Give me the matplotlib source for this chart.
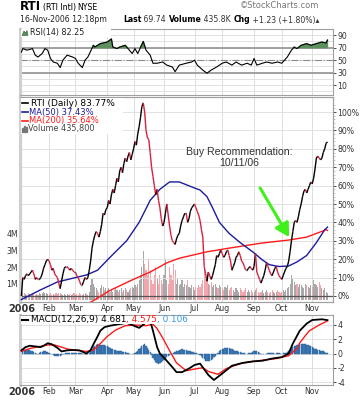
import numpy as np
import matplotlib.pyplot as plt
from matplotlib.collections import LineCollection
from matplotlib.patches import Rectangle, Polygon
from matplotlib.lines import Line2D

plt.rcParams['font.family'] = 'DejaVu Sans'
plt.rcParams['axes.unicode_minus'] = False

# ---- data ----
month_labels = ['2006', 'Feb', 'Mar', 'Apr', 'May', 'Jun', 'Jul', 'Aug', 'Sep', 'Oct', 'Nov']
month_days = [20, 19, 23, 19, 22, 22, 20, 23, 20, 22, 12]   # trading days per month

# RTI daily close, % change since 3-Jan-2006
price_pct = (
    [0, 10, 9, 11, 12, 11, 12, 13, 14, 12, 9, 10, 9, 9, 10, 12, 15, 17, 19, 20]
    + [19, 17, 14, 15, 12, 11, 10, 7, 4, 8, 12, 15, 16, 16, 15, 14, 15, 14, 13]
    + [13, 11, 10, 8, 6, 6, 8, 10, 9, 10, 14, 19, 26, 30, 33, 35, 34, 32, 35, 39, 45, 44, 47]
    + [48, 52, 50, 55, 58, 56, 60, 64, 62, 68, 70, 67, 72, 75, 73, 76, 78, 74, 77]
    + [80, 84, 82, 88, 92, 97, 103, 105, 100, 90, 86, 85, 78, 70, 65, 60, 55, 58, 52, 48, 42, 38]
    + [40, 45, 50, 44, 38, 33, 30, 29, 28, 31, 33, 34, 38, 41, 43, 45, 45, 40, 42, 46, 48, 49]
    + [50, 48, 46, 44, 41, 36, 32, 16, 12, 8, 13, 11, 9, 11, 14, 17, 22, 21, 23, 25]
    + [23, 21, 22, 24, 25, 22, 19, 14, 16, 18, 21, 22, 24, 22, 19, 18, 16, 14, 14, 15, 16, 15, 14]
    + [16, 23, 13, 11, 9, 7, 9, 11, 14, 18, 16, 14, 12, 11, 13, 15, 16, 13, 11, 10]
    + [9, 11, 13, 15, 16, 19, 24, 30, 35, 40, 41, 40, 43, 47, 50, 54, 57, 58, 56, 58, 60, 62]
    + [61, 64, 69, 75, 76, 75, 74, 75, 78, 80, 83, 83.77]
)

# daily volume, millions of shares
volume_m = (
    [0.45, 0.5, 0.4, 0.35, 0.3, 0.4, 0.35, 0.3, 0.4, 0.35, 0.3, 0.35, 0.3, 0.4, 0.35, 0.4, 0.5, 0.45, 0.4, 0.35]
    + [0.35, 0.4, 0.3, 0.35, 0.3, 0.4, 0.35, 0.4, 0.45, 0.35, 0.3, 0.35, 0.3, 0.35, 0.3, 0.35, 0.3, 0.35, 0.4]
    + [0.3, 0.35, 0.3, 0.4, 0.35, 0.3, 0.35, 0.4, 0.35, 0.3, 0.5, 0.9, 1.3, 1.0, 0.8, 0.7, 0.6, 0.5, 0.7, 0.9, 0.8, 0.6, 0.7]
    + [0.6, 0.7, 0.5, 0.6, 0.5, 0.6, 0.7, 0.6, 0.5, 0.6, 0.7, 0.5, 0.6, 0.7, 0.6, 0.5, 0.6, 0.7, 0.8]
    + [0.7, 0.9, 0.8, 1.0, 1.2, 1.5, 2.0, 3.0, 2.2, 1.8, 1.5, 2.5, 1.8, 1.2, 1.0, 1.5, 2.0, 1.3, 1.0, 1.5, 1.2, 1.0]
    + [1.5, 2.5, 1.2, 1.0, 2.0, 1.5, 1.2, 2.2, 1.8, 1.0, 1.3, 0.9, 1.0, 1.2, 0.8, 1.0, 0.9, 1.2, 0.8, 0.7, 0.9, 0.8]
    + [0.6, 0.8, 0.7, 0.9, 0.8, 1.0, 1.2, 1.8, 1.4, 1.2, 1.0, 0.9, 1.1, 0.8, 0.9, 1.0, 0.8, 0.7, 0.9, 0.8]
    + [0.7, 0.6, 0.8, 0.7, 0.9, 0.6, 0.7, 0.8, 0.6, 0.5, 0.7, 0.6, 0.5, 0.7, 0.6, 0.5, 0.6, 0.7, 0.5, 0.6, 0.5, 0.6, 0.5]
    + [0.5, 0.6, 0.7, 0.5, 0.4, 0.5, 0.6, 0.4, 0.5, 0.6, 0.5, 0.4, 0.5, 0.6, 0.5, 0.4, 0.5, 0.6, 0.5, 0.4]
    + [0.5, 0.6, 0.5, 0.6, 0.7, 0.8, 1.0, 1.5, 1.3, 1.1, 0.9, 1.0, 0.8, 1.0, 0.9, 0.8, 0.7, 1.0, 0.9, 0.8, 0.7, 0.9]
    + [0.8, 1.2, 1.0, 0.9, 0.8, 1.1, 0.9, 0.7, 0.6, 0.7, 0.5, 0.44]
)

# MACD histogram, daily
macd_hist = (
    [0.3, 0.4, 0.45, 0.5, 0.5, 0.45, 0.45, 0.4, 0.3, 0.2, 0.1, 0.0, 0.0, 0.1, 0.2, 0.25, 0.3, 0.3, 0.25, 0.2]
    + [0.1, 0.0, -0.1, -0.2, -0.3, -0.4, -0.4, -0.4, -0.35, -0.25, -0.1, 0.0, 0.05, 0.1, 0.15, 0.15, 0.15, 0.15, 0.1]
    + [0.15, 0.1, 0.1, 0.1, 0.05, 0.0, 0.0, 0.0, 0.05, 0.0, 0.1, 0.3, 0.6, 0.9, 1.1, 1.2, 1.3, 1.25, 1.2, 1.2, 1.25, 1.2, 1.1]
    + [1.0, 0.9, 0.8, 0.7, 0.6, 0.5, 0.45, 0.4, 0.35, 0.3, 0.3, 0.25, 0.2, 0.2, 0.1, 0.05, 0.0, -0.1, -0.1]
    + [-0.05, 0.1, 0.2, 0.4, 0.6, 0.8, 1.0, 1.2, 1.3, 1.1, 0.8, 0.5, 0.2, -0.2, -0.6, -0.9, -1.2, -1.3, -1.4, -1.3, -1.2, -1.1]
    + [-0.9, -0.7, -0.5, -0.3, -0.2, -0.1, 0.0, 0.1, 0.2, 0.3, 0.4, 0.5, 0.55, 0.6, 0.55, 0.5, 0.45, 0.4, 0.35, 0.3, 0.25, 0.2]
    + [0.15, 0.1, 0.0, -0.1, -0.2, -0.4, -0.6, -0.8, -1.0, -1.1, -1.1, -1.0, -0.9, -0.7, -0.5, -0.3, -0.1, 0.1, 0.3, 0.5]
    + [0.6, 0.7, 0.75, 0.8, 0.8, 0.75, 0.7, 0.6, 0.5, 0.4, 0.35, 0.3, 0.25, 0.2, 0.15, 0.1, 0.05, 0.0, 0.0, 0.05, 0.1, 0.15, 0.2]
    + [0.3, 0.35, 0.3, 0.2, 0.1, 0.0, -0.05, -0.1, -0.05, 0.0, 0.05, 0.1, 0.1, 0.1, 0.05, 0.0, 0.05, 0.1, 0.05, 0.0]
    + [0.0, 0.05, 0.1, 0.15, 0.2, 0.3, 0.5, 0.7, 0.9, 1.0, 1.1, 1.15, 1.2, 1.3, 1.35, 1.4, 1.35, 1.3, 1.25, 1.2, 1.1, 1.0]
    + [0.9, 0.8, 0.7, 0.6, 0.55, 0.5, 0.4, 0.35, 0.3, 0.2, 0.15, 0.106]
)

# smoother series, sampled on trading-day index
ma50_days = [0, 13, 26, 37, 47, 55, 64, 76, 85, 93, 100, 107, 114, 124, 129, 134, 138, 143, 150, 158, 167, 174, 179, 186, 193, 199, 206, 213, 219, 221]
ma50_vals = [-2, 3, 7.6, 9.6, 11.4, 14, 21, 30, 40, 52, 58, 62, 62, 59, 57.6, 54, 48, 40, 34, 29, 24, 19.6, 17, 16, 16.3, 18.5, 22, 29, 36, 37.43]

ma200_days = [46, 51, 64, 80, 93, 105, 114, 134, 150, 174, 193, 206, 220, 221]
ma200_vals = [-5, -3, 3, 8.7, 13, 18, 20.5, 24, 26, 28.8, 30.4, 32, 36, 35.64]

rsi_days = [0, 1, 4, 8, 10, 12, 15, 17, 19, 21, 23, 26, 28, 30, 33, 37, 39, 41, 44, 46, 48, 52, 53, 57, 62, 65, 66,
            69, 71, 75, 77, 80, 82, 84, 88, 90, 93, 95, 98, 102, 105, 109, 111, 114, 119, 123, 125, 127, 131, 134,
            137, 141, 145, 148, 152, 155, 159, 163, 166, 168, 170, 174, 177, 181, 185, 188, 190, 192, 195, 197,
            199, 202, 206, 209, 213, 217, 220, 221]
rsi_vals = [63, 68.5, 66, 68.5, 58, 55, 60.6, 68.5, 66, 52.7, 47, 45, 38, 50, 58, 55, 52.7, 45, 38, 50, 55, 73.8, 71,
            76.5, 79, 84, 71, 68.5, 71, 73.8, 68.5, 60.6, 68.5, 60.6, 80, 66, 58, 45, 45, 47, 42, 39, 31.5, 42, 45,
            47, 50, 42, 34, 29, 34, 39, 45, 47, 42, 47, 42, 45, 42, 52.7, 42, 45, 47, 45, 47, 45, 50, 55, 66, 71,
            68.5, 73.8, 76.5, 73.8, 76.5, 79, 77.5, 82.25]

macd_days = [0, 3, 6, 10, 14, 17, 19, 22, 26, 29, 33, 37, 42, 47, 50, 52, 55, 57, 60, 64, 70, 76, 80, 85, 89, 93, 95,
             98, 100, 104, 109, 112, 116, 121, 125, 129, 132, 135, 139, 145, 152, 160, 167, 174, 181, 188, 193, 196,
             201, 206, 210, 217, 221]
macd_vals = [0.45, 0.9, 1.1, 1.0, 0.9, 1.2, 1.45, 1.3, 0.8, 0.3, 0.45, 0.5, 0.45, 0.0, 0.5, 1.3, 2.4, 3.2, 3.7, 3.9,
             4.1, 4.3, 4.0, 3.6, 4.2, 4.6, 3.2, 0.9, 0.0, -0.8, -1.9, -2.6, -2.6, -2.1, -1.6, -1.4, -2.2, -3.0, -3.7,
             -2.8, -1.7, -1.3, -1.1, -1.0, -0.7, -0.5, 0.0, 1.4, 3.2, 4.2, 4.7, 4.8, 4.681]

signal_days = [0, 6, 12, 19, 24, 29, 34, 40, 47, 52, 57, 62, 68, 75, 82, 90, 95, 98, 102, 107, 112, 119, 127, 131, 135,
               142, 148, 158, 167, 184, 193, 199, 201, 205, 208, 215, 221]
signal_vals = [0.3, 0.7, 0.95, 1.2, 1.2, 0.9, 0.6, 0.45, 0.3, 0.5, 1.4, 2.4, 3.3, 3.9, 4.0, 3.9, 4.1, 3.5, 2.2, 0.4,
               -1.3, -2.4, -2.1, -2.0, -2.5, -2.9, -2.1, -1.4, -1.1, -0.7, -0.3, 0.7, 1.5, 2.5, 3.2, 4.0, 4.575]

assert len(price_pct) == len(volume_m) == len(macd_hist) == sum(month_days)

# ---- figure ----
W, H = 360, 400
fig = plt.figure(figsize=(W / 100, H / 100), dpi=100)
fig.patch.set_facecolor('white')


def fbox(x0, y0, x1, y1):
    # pixel box (top-left origin) -> figure fraction rect
    return [x0 / W, 1 - y1 / H, (x1 - x0) / W, (y1 - y0) / H]


ax_rsi = fig.add_axes(fbox(20, 29, 333, 95))
ax_vol = fig.add_axes(fbox(20, 97, 333, 302))
ax_px = ax_vol.twinx()
ax_macd = fig.add_axes(fbox(20, 315, 333, 385))

n = len(price_pct)
x = np.arange(n)
month_start = np.concatenate([[0], np.cumsum(month_days)[:-1]])
grid_c = '#dddddd'
frame_c = '#a0a0a0'
tick_fs = 5.6

for a in (ax_rsi, ax_vol, ax_px, ax_macd):
    a.set_xlim(-1, 225)
    for s in a.spines.values():
        s.set_color(frame_c)
        s.set_linewidth(0.8)
    a.spines['left'].set_linewidth(2.2)
    a.spines['left'].set_color('#cfcfcf')
    a.tick_params(labelsize=tick_fs, colors='#333333', length=2, width=0.6, pad=1)

for a in (ax_rsi, ax_vol, ax_macd):
    for m in month_start:
        a.axvline(m, color=grid_c, lw=0.7, zorder=0)

# ---- RSI panel ----
rsi_arr = np.array(rsi_vals)
ax_rsi.set_ylim(-6, 100)
for lv in range(0, 100, 10):
    ax_rsi.axhline(lv, color=grid_c, lw=0.6, zorder=0)
ax_rsi.axhline(70, color='#9a9a9a', lw=1.3, zorder=1)
ax_rsi.axhline(30, color='#9a9a9a', lw=1.3, zorder=1)
ax_rsi.axhline(50, color='#8a8a8a', lw=0.8, ls='-.', zorder=1)
ax_rsi.fill_between(rsi_days, rsi_arr, 70, where=rsi_arr > 70, interpolate=True,
                    color='#5e8f5e', zorder=2)
ax_rsi.plot(rsi_days, rsi_arr, color='black', lw=0.8, zorder=3)
ax_rsi.yaxis.tick_right()
ax_rsi.set_yticks([90, 70, 50, 30, 10])
ax_rsi.set_xticks([])

# ---- price / volume panel ----
pct = np.array(price_pct)
vol = np.array(volume_m)
up = np.r_[True, pct[1:] >= pct[:-1]]
ax_vol.bar(x, vol, width=0.8, color=np.where(up, '#a8a8a8', '#f2a6ae'), zorder=1)
ax_vol.set_ylim(-0.12, 12.3)
ax_vol.set_yticks([1, 2, 3, 4])
ax_vol.set_yticklabels(['1M', '2M', '3M', '4M'])
ax_vol.tick_params(axis='y', length=0, pad=1.5)

ax_px.set_ylim(-3.3, 108.2)
for lv in range(0, 101, 10):
    ax_px.axhline(lv, color=grid_c, lw=0.6, zorder=0)
ax_px.axhline(0, color='#555555', lw=0.9, zorder=2)
ax_px.plot(ma200_days, ma200_vals, color='#ff1a1a', lw=1.0, zorder=3)
ax_px.plot(ma50_days, ma50_vals, color='#1c1c9c', lw=1.0, zorder=3)
segs = np.stack([np.column_stack([x[:-1], pct[:-1]]), np.column_stack([x[1:], pct[1:]])], axis=1)
seg_col = np.where(pct[1:] >= pct[:-1], '#000000', '#d8203e')
ax_px.add_collection(LineCollection(segs, colors=seg_col, linewidths=1.0, zorder=4))
ax_px.set_yticks(range(0, 101, 10))
ax_px.set_yticklabels(['%d%%' % v for v in range(0, 101, 10)])
ax_px.set_yticks(range(0, 106, 2), minor=True)
ax_px.tick_params(axis='y', which='minor', length=1.2, width=0.4, colors=frame_c)

ax_vol.set_xticks(month_start)
ax_vol.set_xticklabels(month_labels)
ax_vol.tick_params(axis='x', length=0, pad=1.5, labelsize=5.6)
ax_vol.get_xticklabels()[0].set_fontweight('bold')
ax_vol.get_xticklabels()[0].set_fontsize(7)

ax_px.annotate('', xy=(193.3, 32), xytext=(172.4, 58.7),
               arrowprops=dict(arrowstyle='-|>,head_width=0.45,head_length=0.8', color='#3ff01a',
                               lw=2.2, shrinkA=0, shrinkB=0), zorder=6)
ax_px.text(157.5, 75.5, 'Buy Recommendation:\n10/11/06', ha='center', va='center', fontsize=7.6,
           family='Liberation Sans', color='#333333', linespacing=1.15, zorder=6)

# ---- MACD panel ----
ax_macd.set_ylim(-4.4, 5.4)
for lv in (-4, -2, 0, 2, 4):
    ax_macd.axhline(lv, color=grid_c, lw=0.6, zorder=0)
ax_macd.bar(x, macd_hist, width=0.9, color='#3f7fbf', edgecolor='#2a5f96', linewidth=0.3, zorder=1)
ax_macd.plot(signal_days, signal_vals, color='#ff1a1a', lw=1.0, zorder=3)
ax_macd.plot(macd_days, macd_vals, color='black', lw=1.3, zorder=4)
ax_macd.yaxis.tick_right()
ax_macd.set_yticks([4, 2, 0, -2, -4])
ax_macd.set_xticks(month_start)
ax_macd.set_xticklabels(month_labels)
ax_macd.tick_params(axis='x', length=0, pad=1.5, labelsize=5.6)
ax_macd.get_xticklabels()[0].set_fontweight('bold')
ax_macd.get_xticklabels()[0].set_fontsize(7)

# ---- legends / header text (figure-level, drawn on top) ----
renderer = fig.canvas.get_renderer()


def put(xp, yp, s, **kw):
    t = fig.text(xp / W, 1 - yp / H, s, va='center', ha='left', zorder=5, **kw)
    bb = t.get_window_extent(renderer=renderer)
    return xp + bb.width


def run(xp, yp, parts, **kw):
    for s, c, w in parts:
        xp = put(xp, yp, s, color=c, fontweight=w, **kw)
    return xp


def legline(x0, yp, color, lw=1.2):
    fig.add_artist(Line2D([x0 / W, (x0 + 6) / W], [1 - yp / H] * 2, color=color, lw=lw, zorder=5))


fig.add_artist(Rectangle((21 / W, 1 - 37 / H), 90 / W, 7.5 / H, facecolor='white', edgecolor='none', zorder=4))
fig.add_artist(Polygon([[22 / W, 1 - 35.5 / H], [24 / W, 1 - 31 / H], [25.5 / W, 1 - 33 / H],
                        [27 / W, 1 - 30.5 / H], [28 / W, 1 - 35.5 / H]], closed=True,
                       facecolor='#5e8f5e', edgecolor='#2d5a2d', lw=0.4, zorder=5))
put(30, 33, 'RSI(14) 82.25', fontsize=5.8, color='#222222')

fig.add_artist(Rectangle((21 / W, 1 - 134 / H), 102 / W, 36 / H, facecolor='white', edgecolor='none', zorder=4))
legline(22, 103, 'black')
put(31, 103, 'RTI (Daily) 83.77%', fontsize=6.5, color='black')
legline(22, 112, '#1c1c9c')
put(29, 112, 'MA(50) 37.43%', fontsize=6.0, color='#1c1c9c')
legline(22, 121, '#ff1a1a')
put(29, 121, 'MA(200) 35.64%', fontsize=6.0, color='#ff1a1a')
fig.add_artist(Rectangle((22 / W, 1 - 132 / H), 1.2 / W, 4 / H, color='#777777', zorder=5))
fig.add_artist(Rectangle((24 / W, 1 - 132 / H), 1.2 / W, 6 / H, color='#777777', zorder=5))
fig.add_artist(Rectangle((26 / W, 1 - 132 / H), 1.2 / W, 5 / H, color='#777777', zorder=5))
put(28.5, 129, 'Volume 435,800', fontsize=5.9, color='#444444')

fig.add_artist(Rectangle((21 / W, 1 - 324 / H), 190 / W, 8 / H, facecolor='white', edgecolor='none', zorder=4))
legline(22, 319.5, 'black', lw=1.5)
run(31, 319.5, [('MACD(12,26,9) 4.681', 'black', 'normal'), (', 4.575', '#ff1a1a', 'normal'),
                (', 0.106', '#3399dd', 'normal')], fontsize=6.4)

xp = put(20, 7, 'RTI', fontsize=8.5, fontweight='bold', color='black')
xp = put(xp + 1.5, 7.5, '(RTI Intl)', fontsize=5.8, color='black')
put(xp + 2, 7.5, 'NYSE', fontsize=5.6, color='black')
put(240, 6, '\u00a9StockCharts.com', fontsize=6.0, color='#777777')
put(20, 20, '16-Nov-2006 12:18pm', fontsize=5.6, color='#222222')
run(123, 20, [('Last', 'black', 'bold'), (' 69.74 ', '#333333', 'normal'), ('Volume', 'black', 'bold'),
              (' 435.8K ', '#333333', 'normal'), ('Chg', 'black', 'bold'),
              (' +1.23 (+1.80%)\u25b4', '#333333', 'normal')], fontsize=5.6)

fig.savefig('out.png', dpi=100)
